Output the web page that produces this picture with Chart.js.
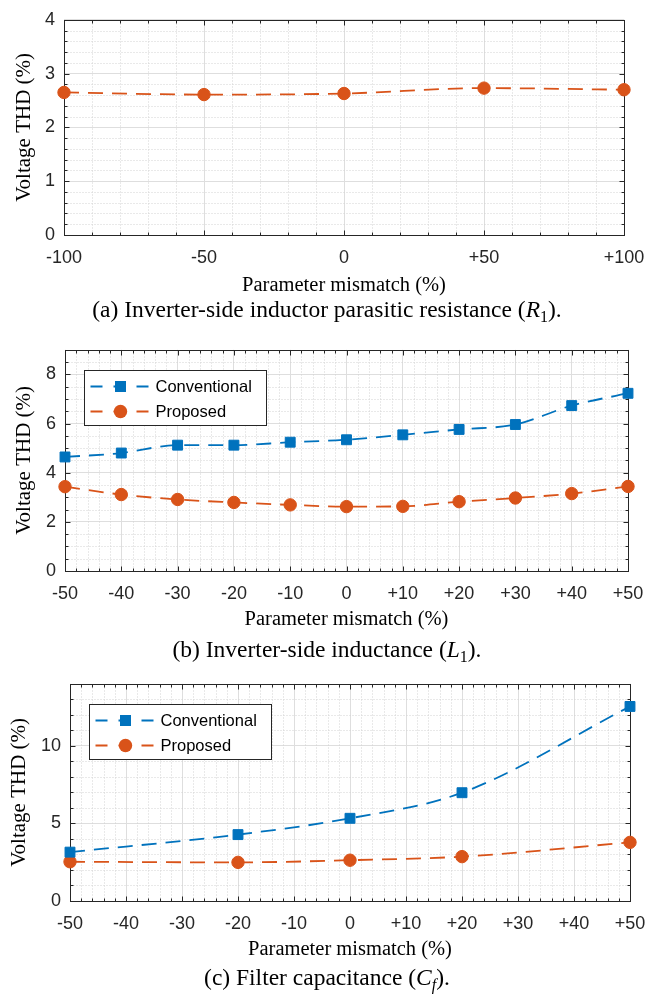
<!DOCTYPE html>
<html>
<head>
<meta charset="utf-8">
<title>Voltage THD under parameter mismatch</title>
<script src="https://cdn.jsdelivr.net/npm/chart.js@4.4.1/dist/chart.umd.min.js"></script>
<style>
  body { margin: 0; background: #fff; }
  #page { position: relative; width: 664px; height: 996px; overflow: hidden; }
  #page canvas { position: absolute; left: 0; }
  .caption {
    position: absolute; left: 0; width: 654px; text-align: center; white-space: nowrap;
    font: 23.5px/22px "Liberation Serif", "Times New Roman", serif; color: #000;
  }
  .caption sub { font-size: 16px; line-height: 0; vertical-align: -5px; }
</style>
</head>
<body>
<div id="page">
  <canvas id="chart-r1" width="664" height="300" style="top:0"></canvas>
  <div class="caption" style="top:298px">(a) Inverter-side inductor parasitic resistance (<i>R</i><sub>1</sub>).</div>
  <canvas id="chart-l1" width="664" height="304" style="top:330px"></canvas>
  <div class="caption" style="top:638px">(b) Inverter-side inductance (<i>L</i><sub>1</sub>).</div>
  <canvas id="chart-cf" width="664" height="300" style="top:664px"></canvas>
  <div class="caption" style="top:966px">(c) Filter capacitance (<i>C</i><sub><i>f</i></sub>).</div>
</div>
<script>
// (a) inverter-side inductor resistance R1
const mismatchR1 = [-100, -50, 0, 50, 100];
const proposedR1 = [2.65, 2.61, 2.63, 2.73, 2.70];
const xTicksR1 = [-100, -50, 0, 50, 100];
const xLabelsR1 = ['-100', '-50', '0', '+50', '+100'];
const yTicksR1 = [0, 1, 2, 3, 4];

// (b) inverter-side inductance L1
const mismatchL1 = [-50, -40, -30, -20, -10, 0, 10, 20, 30, 40, 50];
const conventionalL1 = [4.64, 4.80, 5.12, 5.12, 5.24, 5.34, 5.54, 5.76, 5.96, 6.73, 7.23];
const proposedL1 = [3.43, 3.11, 2.91, 2.79, 2.69, 2.62, 2.63, 2.82, 2.97, 3.15, 3.44];
const xTicksL1 = [-50, -40, -30, -20, -10, 0, 10, 20, 30, 40, 50];
const xLabelsL1 = ['-50', '-40', '-30', '-20', '-10', '0', '+10', '+20', '+30', '+40', '+50'];
const yTicksL1 = [0, 2, 4, 6, 8];

// (c) filter capacitance Cf
const mismatchCf = [-50, -20, 0, 20, 50];
const conventionalCf = [3.15, 4.28, 5.33, 6.98, 12.54];
const proposedCf = [2.53, 2.49, 2.63, 2.86, 3.78];
const xTicksCf = [-50, -40, -30, -20, -10, 0, 10, 20, 30, 40, 50];
const xLabelsCf = ['-50', '-40', '-30', '-20', '-10', '0', '+10', '+20', '+30', '+40', '+50'];
const yTicksCf = [0, 5, 10];

const BLUE = '#0072BD';
const ORANGE = '#D95319';
const AXIS = '#262626';
const SANS = '"Liberation Sans", Arial, Helvetica, sans-serif';
const SERIF = '"Liberation Serif", "Times New Roman", serif';

// MATLAB-style axes: dotted minor grid, boxed axes with inward ticks, framed legend
const thdAxes = {
  id: 'thdAxes',
  beforeDatasetsDraw(chart, args, opts) {
    const { ctx, chartArea: a, scales: { x, y } } = chart;
    const L = Math.round(a.left) + 0.5, R = Math.round(a.right) + 0.5;
    const T = Math.round(a.top) + 0.5, B = Math.round(a.bottom) + 0.5;
    const xs = minorValues(x.min, x.max, opts.xMinor, opts.xTicks).map(v => Math.round(x.getPixelForValue(v)) + 0.5);
    const ys = minorValues(y.min, y.max, opts.yMinor, opts.yTicks).map(v => Math.round(y.getPixelForValue(v)) + 0.5);
    const xm = opts.xTicks.map(v => Math.round(x.getPixelForValue(v)) + 0.5);
    const ym = opts.yTicks.map(v => Math.round(y.getPixelForValue(v)) + 0.5);

    ctx.save();
    ctx.lineWidth = 1;
    ctx.strokeStyle = '#d2d2d2';
    ctx.setLineDash([1, 2]);
    ctx.beginPath();
    xs.forEach(px => { ctx.moveTo(px, T); ctx.lineTo(px, B); });
    ys.forEach(py => { ctx.moveTo(L, py); ctx.lineTo(R, py); });
    ctx.stroke();

    ctx.setLineDash([]);
    ctx.strokeStyle = AXIS;
    ctx.beginPath();
    xs.forEach(px => { ctx.moveTo(px, B); ctx.lineTo(px, B - 3); ctx.moveTo(px, T); ctx.lineTo(px, T + 3); });
    ys.forEach(py => { ctx.moveTo(L, py); ctx.lineTo(L + 3, py); ctx.moveTo(R, py); ctx.lineTo(R - 3, py); });
    xm.forEach(px => { ctx.moveTo(px, B); ctx.lineTo(px, B - 5); ctx.moveTo(px, T); ctx.lineTo(px, T + 5); });
    ym.forEach(py => { ctx.moveTo(L, py); ctx.lineTo(L + 5, py); ctx.moveTo(R, py); ctx.lineTo(R - 5, py); });
    ctx.stroke();
    ctx.strokeRect(L, T, R - L, B - T);
    ctx.restore();
  },
  afterDatasetsDraw(chart, args, opts) {
    if (opts.legend) drawLegend(chart);
  }
};

function minorValues(min, max, step, majors) {
  const out = [];
  const n = Math.round((max - min) / step);
  for (let i = 1; i < n; i++) {
    const v = min + i * step;
    if (!majors.some(m => Math.abs(m - v) < 1e-6)) out.push(v);
  }
  return out;
}

function drawMarker(ctx, style, x, y, color) {
  ctx.fillStyle = color;
  ctx.beginPath();
  if (style === 'rect') {
    ctx.rect(x - 5.5, y - 5.5, 11, 11);
  } else {
    ctx.arc(x, y, 6.7, 0, Math.PI * 2);
  }
  ctx.fill();
}

function drawLegend(chart) {
  const { ctx, chartArea: a } = chart;
  const bx = Math.round(a.left) + 19.5;
  const by = Math.round(a.top) + 20.5;
  ctx.save();
  ctx.fillStyle = '#fff';
  ctx.fillRect(bx, by, 182, 55);
  ctx.strokeStyle = AXIS;
  ctx.lineWidth = 1;
  ctx.strokeRect(bx, by, 182, 55);
  chart.data.datasets.forEach((ds, i) => {
    const ly = by + 16 + i * 25;
    ctx.strokeStyle = ds.borderColor;
    ctx.lineWidth = 1.8;
    ctx.setLineDash([12, 11]);
    ctx.beginPath();
    ctx.moveTo(bx + 6, ly);
    ctx.lineTo(bx + 66, ly);
    ctx.stroke();
    ctx.setLineDash([]);
    drawMarker(ctx, ds.pointStyle, bx + 36, ly, ds.borderColor);
    ctx.fillStyle = '#000';
    ctx.font = '16.5px ' + SANS;
    ctx.textAlign = 'left';
    ctx.textBaseline = 'middle';
    ctx.fillText(ds.label, bx + 71, ly + 1);
  });
  ctx.restore();
}

function lineSeries(label, xValues, values, color, marker) {
  return {
    label,
    data: xValues.map((x, i) => ({ x, y: values[i] })),
    borderColor: color,
    backgroundColor: color,
    borderWidth: 1.8,
    borderDash: [15, 9],
    pointStyle: marker,
    pointRadius: marker === 'rect' ? 7 : 6.2,
    pointBorderWidth: 1,
    pointBackgroundColor: color,
    pointBorderColor: color,
    cubicInterpolationMode: 'monotone',
    fill: false,
    clip: false
  };
}

function makePanel(id, cfg) {
  const tickFont = { family: SANS, size: 18 };
  return new Chart(document.getElementById(id), {
    type: 'line',
    data: { datasets: cfg.datasets },
    options: {
      responsive: false,
      animation: false,
      devicePixelRatio: 1,
      events: [],
      layout: { padding: { top: cfg.top, right: cfg.right, left: 0, bottom: 0 } },
      plugins: {
        legend: { display: false },
        tooltip: { enabled: false },
        thdAxes: {
          xTicks: cfg.xTicks, yTicks: cfg.yTicks,
          xMinor: cfg.xMinor, yMinor: cfg.yMinor,
          legend: cfg.legend
        }
      },
      scales: {
        x: {
          type: 'linear',
          min: cfg.xTicks[0],
          max: cfg.xTicks[cfg.xTicks.length - 1],
          afterBuildTicks: s => { s.ticks = cfg.xTicks.map(v => ({ value: v })); },
          afterFit: s => { s.height = cfg.xAxisHeight; },
          ticks: {
            callback: v => cfg.xLabels[cfg.xTicks.indexOf(v)],
            font: tickFont, color: AXIS, padding: 12, autoSkip: false, maxRotation: 0
          },
          grid: { color: '#dedede', drawTicks: false },
          border: { display: false },
          title: {
            display: true, text: 'Parameter mismatch (%)', font: { family: SERIF, size: 20.5 }, color: '#000',
            padding: { top: 0, bottom: 2 }
          }
        },
        y: {
          min: cfg.yMin,
          max: cfg.yMax,
          afterBuildTicks: s => { s.ticks = cfg.yTicks.map(v => ({ value: v })); },
          afterFit: s => { s.width = cfg.left; },
          ticks: { font: tickFont, color: AXIS, padding: 9 },
          grid: { color: '#dedede', drawTicks: false },
          border: { display: false },
          title: {
            display: true, text: 'Voltage THD (%)', font: { family: SERIF, size: 21 }, color: '#000',
            padding: { top: cfg.yTitlePad, bottom: 0 }
          }
        }
      }
    },
    plugins: [thdAxes]
  });
}

makePanel('chart-r1', {
  datasets: [lineSeries('Proposed', mismatchR1, proposedR1, ORANGE, 'circle')],
  xTicks: xTicksR1, xLabels: xLabelsR1, xMinor: 10,
  yTicks: yTicksR1, yMin: 0, yMax: 4, yMinor: 0.2,
  top: 11, right: 40, left: 64, xAxisHeight: 65, yTitlePad: 12, legend: false
});

makePanel('chart-l1', {
  datasets: [
    lineSeries('Conventional', mismatchL1, conventionalL1, BLUE, 'rect'),
    lineSeries('Proposed', mismatchL1, proposedL1, ORANGE, 'circle')
  ],
  xTicks: xTicksL1, xLabels: xLabelsL1, xMinor: 2,
  yTicks: yTicksL1, yMin: 0, yMax: 9, yMinor: 0.5,
  top: 16, right: 36, left: 65, xAxisHeight: 63, yTitlePad: 12, legend: true
});

makePanel('chart-cf', {
  datasets: [
    lineSeries('Conventional', mismatchCf, conventionalCf, BLUE, 'rect'),
    lineSeries('Proposed', mismatchCf, proposedCf, ORANGE, 'circle')
  ],
  xTicks: xTicksCf, xLabels: xLabelsCf, xMinor: 2,
  yTicks: yTicksCf, yMin: 0, yMax: 14, yMinor: 1,
  top: 13, right: 34, left: 70, xAxisHeight: 63, yTitlePad: 7, legend: true
});
</script>
</body>
</html>
